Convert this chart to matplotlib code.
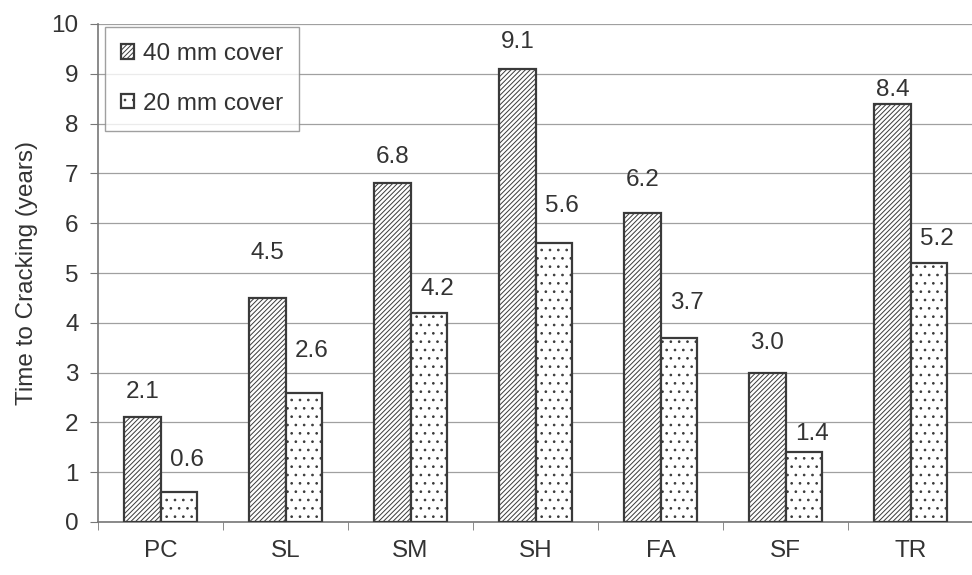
import matplotlib
matplotlib.use("Agg")
import matplotlib.pyplot as plt
import numpy as np

plt.rcParams['font.family'] = ['Liberation Sans', 'DejaVu Sans']
plt.rcParams['hatch.linewidth'] = 0.7

categories = ["PC", "SL", "SM", "SH", "FA", "SF", "TR"]
cover_40 = [2.1, 4.5, 6.8, 9.1, 6.2, 3.0, 8.4]
cover_20 = [0.6, 2.6, 4.2, 5.6, 3.7, 1.4, 5.2]
series_labels = ["40 mm cover", "20 mm cover"]

# hand-placed label positions above each bar (points)
lift_40 = [18, 32, 19, 19, 24, 21, 10]
lift_20 = [23, 30, 17, 27, 25, 13, 17]
shift_20 = 6

text_col = "#333333"
edge_col = "#3a3a3a"
fs = 17.5

fig = plt.figure(figsize=(9.72, 5.75), dpi=100)
ax = fig.add_axes([98/972, 1 - 522/575, 875/972, 498/575])

x = np.arange(len(categories))
w = 0.29
b1 = ax.bar(x - w/2, cover_40, w, facecolor="white", edgecolor=edge_col,
            hatch="///////", linewidth=1.6, label=series_labels[0], zorder=3)
b2 = ax.bar(x + w/2, cover_20, w, facecolor="white", edgecolor=edge_col,
            hatch="..", linewidth=1.6, label=series_labels[1], zorder=3)

for bars, vals, lifts, dx in ((b1, cover_40, lift_40, 0),
                              (b2, cover_20, lift_20, shift_20)):
    for r, v, dy in zip(bars, vals, lifts):
        ax.annotate(f"{v:.1f}", (r.get_x() + r.get_width()/2, v),
                    xytext=(dx, dy), textcoords="offset points",
                    ha="center", va="center", fontsize=fs, color=text_col)

ax.set_xlim(-0.5, len(categories) - 0.5)
ax.set_ylim(0, 10)
ax.set_yticks(range(0, 11))
ax.yaxis.grid(True, color="#a0a0a0", linewidth=0.9, zorder=0)
ax.set_axisbelow(True)

ax.set_xticks(x)
ax.set_xticklabels(categories)
ax.set_xticks(np.arange(-0.5, len(categories)), minor=True)
ax.tick_params(axis="x", which="major", length=0, pad=13,
               labelsize=fs, labelcolor=text_col)
ax.tick_params(axis="x", which="minor", length=6, color="#777777")
ax.tick_params(axis="y", length=6, color="#777777", pad=8,
               labelsize=fs, labelcolor=text_col)

for s in ("top", "right"):
    ax.spines[s].set_visible(False)
for s in ("left", "bottom"):
    ax.spines[s].set_color("#777777")
    ax.spines[s].set_linewidth(1.2)

ax.set_ylabel("Time to Cracking (years)", fontsize=fs, color=text_col,
              labelpad=10)

leg = ax.legend(loc="upper left", bbox_to_anchor=(0.008, 0.994),
                fontsize=fs, frameon=True, fancybox=False,
                handlelength=0.55, handleheight=0.55, handletextpad=0.35,
                labelspacing=1.15, borderpad=0.65, borderaxespad=0.0,
                labelcolor=text_col)
leg.get_frame().set_edgecolor("#888888")
leg.get_frame().set_linewidth(1.0)

fig.savefig("out.png", dpi=100)
